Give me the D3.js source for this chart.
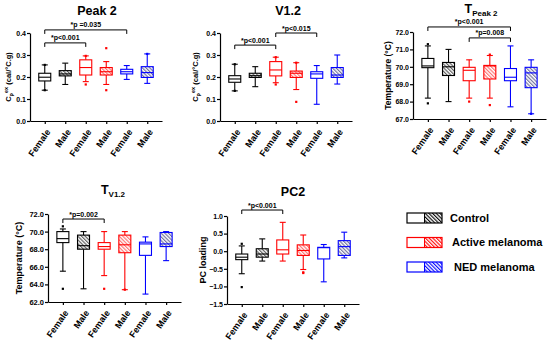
<!DOCTYPE html>
<html lang="en">
<head>
<meta charset="UTF-8">
<title>Box plots by sex and cohort</title>
<script src="https://d3js.org/d3.v7.min.js"></script>
<style>
  body { margin: 0; background: #fff; }
  svg { display: block; font-family: "Liberation Sans", Arial, sans-serif; }
  .axis path, .axis line { stroke: #000; stroke-width: 1.2; }
  .axis text { font-weight: bold; fill: #000; }
  .ttl { font-weight: bold; text-anchor: middle; }
  .sig { font-size: 7px; font-weight: bold; text-anchor: middle; }
  .lg { font-size: 11px; font-weight: bold; }
</style>
</head>
<body>
<svg id="chart" width="550" height="344"></svg>
<script>
// groups along each x axis
var sexes = ["Female", "Male", "Female", "Male", "Female", "Male"];
var cohortOf = [0, 0, 1, 1, 2, 2];
var cohorts = ["Control", "Active melanoma", "NED melanoma"];
var cohortColors = ["#000000", "#ff0000", "#0000ff"];
var hatchColors = ["#555555", "#ff6a6a", "#6a6a9a"];

// box stats per group: [whisker low, q1, median, q3, whisker high]
var peak2Stats = [
  [0.140, 0.182, 0.199, 0.217, 0.255],
  [0.166, 0.205, 0.214, 0.229, 0.263],
  [0.179, 0.209, 0.243, 0.278, 0.296],
  [0.166, 0.209, 0.224, 0.243, 0.270],
  [0.189, 0.214, 0.224, 0.235, 0.252],
  [0.171, 0.198, 0.220, 0.247, 0.305]
];
var peak2Out = [[0, 0.140], [0, 0.255], [2, 0.166], [2, 0.296], [3, 0.331], [3, 0.140], [5, 0.305]];

var v12Stats = [
  [0.137, 0.176, 0.191, 0.206, 0.258],
  [0.156, 0.198, 0.206, 0.217, 0.247],
  [0.174, 0.205, 0.232, 0.270, 0.290],
  [0.143, 0.198, 0.217, 0.227, 0.265],
  [0.076, 0.194, 0.214, 0.224, 0.252],
  [0.168, 0.198, 0.209, 0.243, 0.300]
];
var v12Out = [[0, 0.137], [0, 0.258], [2, 0.166], [2, 0.290], [3, 0.265], [3, 0.087]];

var tPeak2Stats = [
  [68.2, 69.95, 70.05, 70.48, 71.2],
  [68.0, 69.50, 70.00, 70.25, 71.0],
  [68.2, 69.20, 69.80, 69.97, 70.4],
  [68.2, 69.30, 70.05, 70.08, 70.65],
  [67.7, 69.20, 69.40, 69.90, 71.2],
  [67.3, 68.80, 69.65, 69.97, 70.4]
];
var tPeak2Out = [[0, 71.3], [0, 67.9], [2, 68.0], [3, 70.7], [3, 67.8], [5, 67.3]];

var tV12Stats = [
  [65.5, 68.75, 69.2, 70.0, 70.3],
  [63.5, 68.0, 68.4, 69.6, 70.0],
  [65.0, 68.0, 68.3, 68.75, 70.0],
  [63.4, 67.6, 68.5, 69.6, 70.0],
  [62.9, 67.3, 68.6, 68.8, 69.4],
  [66.7, 68.3, 68.6, 69.9, 70.0]
];
var tV12Out = [[0, 70.6], [0, 63.5], [2, 63.5], [3, 63.4]];

var pc2Stats = [
  [-0.64, -0.24, -0.17, -0.08, 0.15],
  [-0.28, -0.17, -0.08, 0.07, 0.35],
  [-0.28, -0.08, 0.04, 0.32, 0.82],
  [-0.52, -0.12, 0.02, 0.18, 0.46],
  [-0.87, -0.22, 0.10, 0.11, 0.19],
  [-0.19, -0.12, 0.13, 0.30, 0.54]
];
var pc2Out = [[0, 0.21], [0, -1.02], [3, -0.62], [3, -0.60]];

var svg = d3.select("#chart");
var defs = svg.append("defs");

function hatch(id, color) {
  var p = defs.append("pattern").attr("id", id)
    .attr("patternUnits", "userSpaceOnUse")
    .attr("width", 2.6).attr("height", 2.6)
    .attr("patternTransform", "rotate(-45)");
  p.append("rect").attr("width", 2.6).attr("height", 2.6).attr("fill", "#fff");
  p.append("line").attr("x1", 0.6).attr("y1", 0).attr("x2", 0.6).attr("y2", 2.6)
    .attr("stroke", color).attr("stroke-width", 1.1);
}
hatchColors.forEach(function(c, i) { hatch("h" + i, c); });
cohortColors.forEach(function(c, i) { hatch("lh" + i, c); });

function panel(o) {
  var g = svg.append("g");
  var x = d3.scalePoint().domain(d3.range(6)).range(o.xr).padding(0.72);
  var y = d3.scaleLinear().domain(o.dom).range(o.yr);
  var base = o.yr[0];

  var ya = g.append("g").attr("class", "axis")
    .attr("transform", "translate(" + o.xr[0] + ",0)")
    .call(d3.axisLeft(y).tickValues(o.ticks).tickFormat(d3.format(o.fmt)).tickSize(3).tickSizeOuter(0));
  ya.selectAll("text").style("font-size", o.tfs + "px").attr("x", -4);

  var xa = g.append("g").attr("class", "axis")
    .attr("transform", "translate(0," + base + ")")
    .call(d3.axisBottom(x).tickSize(3).tickSizeOuter(0).tickFormat(function(i) { return sexes[i]; }));
  xa.selectAll("text")
    .style("font-size", "9px")
    .attr("text-anchor", "end")
    .attr("x", 0).attr("y", 0).attr("dy", "0.35em")
    .attr("transform", "translate(3,9) rotate(-55)");

  // boxes
  var bw = 12, cw = 6;
  var bx = g.selectAll(".box").data(o.stats).join("g")
    .attr("transform", function(d, i) { return "translate(" + x(i) + ",0)"; })
    .attr("stroke", function(d, i) { return cohortColors[cohortOf[i]]; })
    .attr("stroke-width", 1.1).attr("fill", "none");
  bx.append("line").attr("y1", function(d) { return y(d[0]); }).attr("y2", function(d) { return y(d[1]); });
  bx.append("line").attr("y1", function(d) { return y(d[3]); }).attr("y2", function(d) { return y(d[4]); });
  bx.append("line").attr("x1", -cw / 2).attr("x2", cw / 2).attr("y1", function(d) { return y(d[0]); }).attr("y2", function(d) { return y(d[0]); });
  bx.append("line").attr("x1", -cw / 2).attr("x2", cw / 2).attr("y1", function(d) { return y(d[4]); }).attr("y2", function(d) { return y(d[4]); });
  bx.append("rect").attr("x", -bw / 2).attr("width", bw)
    .attr("y", function(d) { return y(d[3]); })
    .attr("height", function(d) { return y(d[1]) - y(d[3]); })
    .attr("fill", function(d, i) { return i % 2 ? "url(#h" + cohortOf[i] + ")" : "#fff"; });
  bx.append("line").attr("x1", -bw / 2).attr("x2", bw / 2)
    .attr("y1", function(d) { return y(d[2]); }).attr("y2", function(d) { return y(d[2]); });

  g.selectAll(".out").data(o.out).join("rect")
    .attr("x", function(d) { return x(d[0]) - 1.1; })
    .attr("y", function(d) { return y(d[1]) - 1.1; })
    .attr("width", 2.2).attr("height", 2.2)
    .attr("fill", function(d) { return cohortColors[cohortOf[d[0]]]; });

  // significance brackets
  o.sig.forEach(function(s) {
    var yl = y(s[2]), xa0 = x(s[0]), xa1 = x(s[1]);
    g.append("path").attr("fill", "none").attr("stroke", "#000").attr("stroke-width", 1)
      .attr("d", "M" + xa0 + "," + (yl + 4) + "V" + yl + "H" + xa1 + "V" + (yl + 4));
    g.append("text").attr("class", "sig").attr("x", (xa0 + xa1) / 2).attr("y", yl - 2.5).text(s[3]);
  });

  // title
  var t = g.append("text").attr("class", "ttl").attr("x", o.tx).attr("y", o.ty).style("font-size", "12.5px");
  if (o.sub) {
    t.append("tspan").text(o.title);
    t.append("tspan").attr("dy", 3).style("font-size", "8px").text(o.sub);
  } else t.text(o.title);

  // y label
  var yl = g.append("text").attr("class", "ttl")
    .attr("transform", "translate(" + (o.xr[0] + o.lx) + "," + ((o.yr[0] + o.yr[1]) / 2) + ") rotate(-90)")
    .style("font-size", o.lfs + "px");
  if (o.cp) {
    yl.append("tspan").text("C");
    yl.append("tspan").attr("dy", 2).style("font-size", (o.lfs - 2) + "px").text("p");
    yl.append("tspan").attr("dy", -5).style("font-size", (o.lfs - 2) + "px").text("ex");
    yl.append("tspan").attr("dy", 3).text(" (cal/\u00b0C.g)");
  } else yl.text(o.ylabel);
}

panel({ xr: [30, 162], yr: [121, 33], dom: [0, 0.4], ticks: [0, 0.1, 0.2, 0.3, 0.4], fmt: ".1f", tfs: 7,
  stats: peak2Stats, out: peak2Out, title: "Peak 2", tx: 97, ty: 15, cp: true, lx: -19, lfs: 7.5,
  sig: [[0, 2, 0.355, "*p<0.001"], [0, 4, 0.414, "*p =0.035"]] });
panel({ xr: [220, 352], yr: [121, 33], dom: [0, 0.4], ticks: [0, 0.1, 0.2, 0.3, 0.4], fmt: ".1f", tfs: 7,
  stats: v12Stats, out: v12Out, title: "V1.2", tx: 288, ty: 15, cp: true, lx: -22, lfs: 7.5,
  sig: [[0, 2, 0.345, "*p<0.001"], [2, 4, 0.40, "*p<0.015"]] });
panel({ xr: [413, 546], yr: [119, 32], dom: [67, 72], ticks: [67, 68, 69, 70, 71, 72], fmt: ".1f", tfs: 7,
  stats: tPeak2Stats, out: tPeak2Out, title: "T", sub: "Peak 2", tx: 481, ty: 13, ylabel: "Temperature (\u00b0C)", lx: -22, lfs: 8.5,
  sig: [[0, 4, 72.29, "*p<0.001"], [2, 4, 71.66, "*p=0.008"]] });
panel({ xr: [48, 181], yr: [302, 214], dom: [62, 72], ticks: [62, 64, 66, 68, 70, 72], fmt: ".1f", tfs: 7.5,
  stats: tV12Stats, out: tV12Out, title: "T", sub: "V1.2", tx: 113, ty: 194, ylabel: "Temperature (\u00b0C)", lx: -26, lfs: 9,
  sig: [[0, 2, 71.43, "*p=0.002"]] });
panel({ xr: [227, 359], yr: [304, 216], dom: [-1.5, 1.0], ticks: [-1.5, -1.0, -0.5, 0, 0.5, 1.0], fmt: ".1f", tfs: 7,
  stats: pc2Stats, out: pc2Out, title: "PC2", tx: 293, ty: 196, ylabel: "PC loading", lx: -21, lfs: 9,
  sig: [[0, 2, 1.17, "*p<0.001"]] });

// legend
var lg = svg.append("g").selectAll("g").data(cohorts).join("g")
  .attr("transform", function(d, i) { return "translate(407," + (218 + i * 24.5) + ")"; });
lg.append("rect").attr("x", 17.5).attr("y", -5).attr("width", 17.5).attr("height", 10)
  .attr("fill", function(d, i) { return "url(#lh" + i + ")"; });
lg.append("rect").attr("y", -5).attr("width", 35).attr("height", 10).attr("fill", "none")
  .attr("stroke", function(d, i) { return cohortColors[i]; }).attr("stroke-width", 1.2);
lg.append("line").attr("x1", 17.5).attr("x2", 17.5).attr("y1", -5).attr("y2", 5)
  .attr("stroke", function(d, i) { return cohortColors[i]; }).attr("stroke-width", 1);
lg.append("text").attr("class", "lg").attr("x", function(d, i) { return 43 + i * 2; }).attr("dy", "0.35em").text(function(d) { return d; });
</script>
</body>
</html>
